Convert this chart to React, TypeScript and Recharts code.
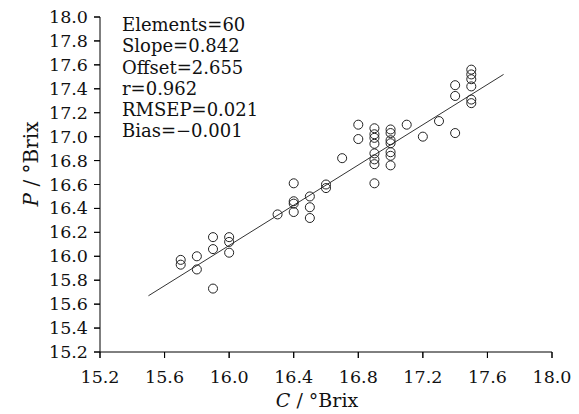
import React from "react";
import { ScatterChart, Scatter, XAxis, YAxis, ZAxis, ReferenceLine } from "recharts";

// Measured (reference) values, C / °Brix
const measuredC = [
  15.7, 15.7, 15.8, 15.8, 15.9, 15.9, 15.9, 16.0, 16.0, 16.0,
  16.3, 16.4, 16.4, 16.4, 16.4, 16.5, 16.5, 16.5, 16.6, 16.6,
  16.7, 16.8, 16.8,
  16.9, 16.9, 16.9, 16.9, 16.9, 16.9, 16.9, 16.9,
  17.0, 17.0, 17.0, 17.0, 17.0, 17.0, 17.0,
  17.1, 17.2, 17.3, 17.4, 17.4, 17.4,
  17.5, 17.5, 17.5, 17.5, 17.5, 17.5,
];
// Predicted values, P / °Brix
const predictedP = [
  15.97, 15.93, 16.0, 15.89, 16.16, 16.06, 15.73, 16.16, 16.12, 16.03,
  16.35, 16.61, 16.46, 16.44, 16.37, 16.5, 16.41, 16.32, 16.6, 16.57,
  16.82, 17.1, 16.98,
  17.07, 17.02, 16.99, 16.94, 16.86, 16.81, 16.77, 16.61,
  17.06, 17.03, 16.97, 16.945, 16.87, 16.84, 16.76,
  17.1, 17.0, 17.13, 17.43, 17.34, 17.03,
  17.56, 17.52, 17.48, 17.42, 17.31, 17.28,
];
// Regression line end points
const fitC = [15.5, 17.7];
const fitP = [15.67, 17.52];
const xTickLabels = [15.2, 15.6, 16.0, 16.4, 16.8, 17.2, 17.6, 18.0];
const yTickLabels = [
  15.2, 15.4, 15.6, 15.8, 16.0, 16.2, 16.4, 16.6, 16.8, 17.0, 17.2, 17.4, 17.6, 17.8, 18.0,
];
const statLines = [
  "Elements=60",
  "Slope=0.842",
  "Offset=2.655",
  "r=0.962",
  "RMSEP=0.021",
  "Bias=\u22120.001",
];

const points = measuredC.map((c, i) => ({ x: c, y: predictedP[i] }));

const FONT = "'DejaVu Serif', serif";
const INK = "#000";

const XTickLabel = (props: any) => {
  const { x, y, payload } = props;
  return (
    <g>
      <path d={`M${x},${y - 6}L${x},${y}`} stroke={INK} strokeWidth={1} fill="none" />
      <text x={x} y={y + 25} textAnchor="middle" fontFamily={FONT} fontSize={17.5} fill="#111">
        {Number(payload.value).toFixed(1)}
      </text>
    </g>
  );
};

const YTickLabel = (props: any) => {
  const { x, y, payload } = props;
  return (
    <g>
      <path d={`M${x},${y}L${x + 6},${y}`} stroke={INK} strokeWidth={1} fill="none" />
      <text x={x - 6} y={y + 6} textAnchor="end" fontFamily={FONT} fontSize={17.5} fill="#111">
        {Number(payload.value).toFixed(1)}
      </text>
    </g>
  );
};

const textStyle: React.CSSProperties = {
  position: "absolute",
  fontFamily: FONT,
  color: "#111",
  whiteSpace: "nowrap",
  pointerEvents: "none",
};

export default function App() {
  return (
    <div style={{ position: "absolute", left: 0, top: 0, width: 579, height: 414, background: "#fff" }}>
      <ScatterChart width={579} height={414} margin={{ top: 17, right: 27, bottom: 0, left: 0 }}>
        <XAxis
          type="number"
          dataKey="x"
          domain={[15.2, 18]}
          ticks={xTickLabels}
          interval={0}
          height={62}
          tickSize={6}
          tickMargin={0}
          stroke={INK}
          tickLine={{ stroke: INK }}
          axisLine={{ stroke: INK }}
          tick={(p: any) => <XTickLabel {...p} />}
        />
        <YAxis
          type="number"
          dataKey="y"
          domain={[15.2, 18]}
          ticks={yTickLabels}
          interval={0}
          width={100}
          tickSize={6}
          tickMargin={0}
          stroke={INK}
          tickLine={{ stroke: INK }}
          axisLine={{ stroke: INK }}
          tick={(p: any) => <YTickLabel {...p} />}
        />
        <ZAxis range={[40, 40]} />
        <ReferenceLine
          segment={[
            { x: fitC[0], y: fitP[0] },
            { x: fitC[1], y: fitP[1] },
          ]}
          stroke="#333"
          strokeWidth={1}
        />
        <Scatter
          data={points}
          shape="circle"
          fill="none"
          stroke="#222"
          strokeWidth={1}
          isAnimationActive={false}
        />
      </ScatterChart>
      <div style={{ ...textStyle, left: 122, top: 14, fontSize: 18, lineHeight: "21.3px" }}>
        {statLines.map((s) => (
          <div key={s}>{s}</div>
        ))}
      </div>
      <div style={{ ...textStyle, left: 217, top: 389, width: 200, textAlign: "center", fontSize: 19, lineHeight: "22px" }}>
        <i>C</i> / °Brix
      </div>
      <div
        style={{
          ...textStyle,
          left: -69,
          top: 152,
          width: 200,
          height: 24,
          textAlign: "center",
          fontSize: 20,
          lineHeight: "24px",
          transform: "rotate(-90deg)",
        }}
      >
        <i>P</i> / °Brix
      </div>
    </div>
  );
}
